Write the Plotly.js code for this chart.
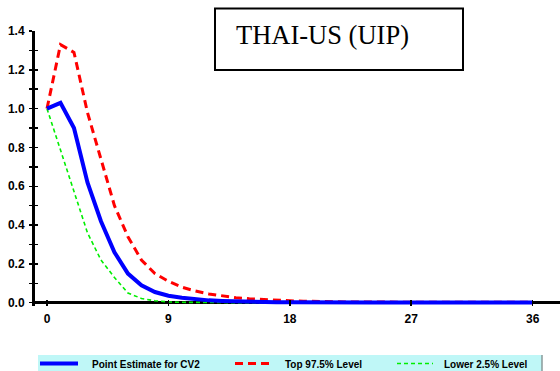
<!DOCTYPE html>
<html>
<head>
<meta charset="utf-8">
<script src="https://cdn.plot.ly/plotly-3.0.1.min.js"></script>
<style>
  html, body { margin: 0; padding: 0; background: #fff; }
  #chart { width: 560px; height: 371px; }
</style>
</head>
<body>
<div id="chart"></div>
<script>
// Impulse response horizon (periods)
const horizon = [0,1,2,3,4,5,6,7,8,9,10,11,12,13,14,15,16,17,18,19,20,21,22,23,24,25,26,27,28,29,30,31,32,33,34,35,36];

// Point estimate and bootstrap bands
const pointEstimate = [1.00,1.03,0.90,0.62,0.42,0.26,0.15,0.09,0.055,0.036,0.026,0.018,0.012,0.009,0.006,0.004,0.003,0.002,0.002,0.001,0.001,0.001,0.001,0.001,0.001,0.0005,0.0005,0.0005,0.0005,0.0005,0.0005,0.0005,0.0005,0.0005,0.0005,0.0005,0.0005];
const upper975 = [1.00,1.33,1.29,0.98,0.74,0.50,0.34,0.22,0.15,0.11,0.08,0.06,0.045,0.035,0.026,0.020,0.016,0.012,0.010,0.008,0.006,0.005,0.004,0.004,0.003,0.003,0.003,0.002,0.002,0.002,0.002,0.002,0.002,0.002,0.002,0.002,0.002];
const lower025 = [1.00,0.79,0.57,0.36,0.22,0.13,0.05,0.022,0.010,0.004,0.002,0.001,0.0005,0,0,0,0,0,0,0,0,0,0,0,0,0,0,0,0,0,0,0,0,0,0,0,0];

const seriesNames = ["Point Estimate for CV2", "Top 97.5% Level", "Lower 2.5% Level"];
const xTickVals = [0, 9, 18, 27, 36];
const chartTitle = "THAI-US (UIP)";

// Plot-area geometry (pixels)
const W = 560, H = 371;
const M = { l: 35, r: 0, t: 31, b: 65 };
const plotW = W - M.l - M.r, plotH = H - M.t - M.b;
const px2x = px => (px - M.l) / plotW;
const px2y = py => (H - M.b - py) / plotH;

const styles = [
  { color: "#0000ff", width: 4, dash: "solid" },
  { color: "#ff0000", width: 3, dash: "8px,5px" },
  { color: "#00ee00", width: 1.6, dash: "4px,3px" }
];

const seriesData = [pointEstimate, upper975, lower025];
// draw order: green, red, blue on top
const order = [2, 1, 0];
const traces = order.map(i => ({
  x: horizon, y: seriesData[i], name: seriesNames[i],
  type: "scatter", mode: "lines",
  line: { color: styles[i].color, width: styles[i].width, dash: styles[i].dash },
  showlegend: false, hoverinfo: "skip"
}));
// invisible trace to carry the mirrored tick axis
traces.push({ x: [0], y: [0], yaxis: "y2", mode: "markers", marker: { opacity: 0 }, showlegend: false, hoverinfo: "skip" });

const tickFont = { family: "Arial, 'Liberation Sans', sans-serif", size: 12, color: "#000", weight: "bold" };
const yRange = [-0.017, 1.4];

// Legend strip built from series names and styles
const legendSamples = [[40, 78], [235, 270], [397, 433]];
const legendTextX = [90, 283, 442];
const legendY = 363.5;
const shapes = [
  { type: "rect", xref: "paper", yref: "paper", x0: px2x(38), x1: px2x(542), y0: px2y(380), y1: px2y(355),
    fillcolor: "#bff7f7", line: { width: 0 }, layer: "below" },
  { type: "line", xref: "paper", yref: "paper", x0: px2x(542), x1: px2x(542), y0: px2y(380), y1: px2y(355),
    line: { color: "#8a9a9a", width: 1.5 } },
  // title box
  { type: "rect", xref: "paper", yref: "paper", x0: px2x(215), x1: px2x(463), y0: px2y(70), y1: px2y(8.5),
    fillcolor: "rgba(0,0,0,0)", line: { color: "#000", width: 2 } }
];
const annotations = [
  { xref: "paper", yref: "paper", x: px2x(234), y: px2y(35), xanchor: "left", yanchor: "middle",
    text: chartTitle, showarrow: false,
    font: { family: "'Liberation Serif', 'Times New Roman', serif", size: 26.5, color: "#000" } }
];
seriesNames.forEach((name, i) => {
  shapes.push({ type: "line", xref: "paper", yref: "paper",
    x0: px2x(legendSamples[i][0]), x1: px2x(legendSamples[i][1]), y0: px2y(legendY), y1: px2y(legendY),
    line: { color: styles[i].color, width: styles[i].width, dash: styles[i].dash } });
  annotations.push({ xref: "paper", yref: "paper", x: px2x(legendTextX[i]), y: px2y(legendY + 1),
    xanchor: "left", yanchor: "middle", text: name, showarrow: false,
    font: { family: "Arial, 'Liberation Sans', sans-serif", size: 10, color: "#000", weight: "bold" } });
});

const layout = {
  width: W, height: H,
  margin: M,
  paper_bgcolor: "#fff", plot_bgcolor: "#fff",
  showlegend: false,
  xaxis: {
    range: [px2x(35) * 0 + (35 - 47) / 13.49, (560 - 47) / 13.49],
    tickmode: "array", tickvals: xTickVals, ticktext: xTickVals.map(String),
    ticks: "inside", ticklen: 6, tickwidth: 1.5, tickcolor: "#000",
    showline: false, showgrid: false,
    zeroline: false,
    tickfont: tickFont, ticklabelstandoff: 4,
    fixedrange: true
  },
  yaxis: {
    range: yRange,
    tickmode: "linear", tick0: 0, dtick: 0.2, tickformat: ".1f",
    ticks: "outside", ticklen: 3, tickwidth: 1.5, tickcolor: "#000",
    minor: { tickmode: "linear", tick0: 0, dtick: 0.1, ticks: "outside", ticklen: 3, tickwidth: 1.5, tickcolor: "#000" },
    showline: true, linecolor: "#000", linewidth: 3,
    showgrid: false, zeroline: true, zerolinecolor: "#000", zerolinewidth: 3,
    tickfont: tickFont, ticklabelstandoff: 2,
    layer: "below traces", fixedrange: true
  },
  yaxis2: {
    range: yRange, overlaying: "y", side: "left",
    tickmode: "linear", tick0: 0, dtick: 0.1,
    ticks: "inside", ticklen: 3, tickwidth: 1.5, tickcolor: "#000",
    showticklabels: false, showline: false, showgrid: false, zeroline: false, fixedrange: true
  },
  shapes: shapes,
  annotations: annotations
};

Plotly.newPlot("chart", traces, layout, { staticPlot: true, displayModeBar: false });
</script>
</body>
</html>
